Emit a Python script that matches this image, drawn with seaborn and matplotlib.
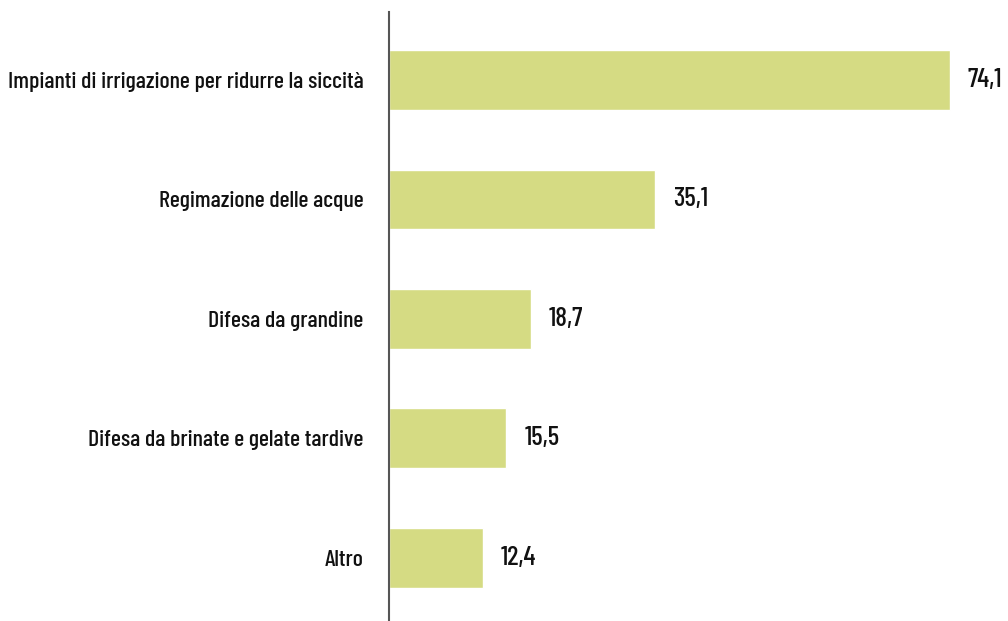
import matplotlib
matplotlib.use("Agg")
import matplotlib.pyplot as plt
import seaborn as sns
import pandas as pd

# dati
categorie = [
    "Impianti di irrigazione per ridurre la siccità",
    "Regimazione delle acque",
    "Difesa da grandine",
    "Difesa da brinate e gelate tardive",
    "Altro",
]
valori = [74.1, 35.1, 18.7, 15.5, 12.4]

df = pd.DataFrame({"categoria": categorie, "valore": valori})

sns.set_theme(style="white")
plt.rcParams["font.family"] = ["Barlow Condensed", "DejaVu Sans"]
plt.rcParams["font.weight"] = 500

fig = plt.figure(figsize=(10.08, 6.21), dpi=100)
ax = fig.add_axes([389 / 1008, 0, 1 - 389 / 1008, 1 - 12 / 621])

sns.barplot(data=df, x="valore", y="categoria", color="#D5DB83",
            width=0.5, saturation=1, ax=ax)

# etichette valori
for i, v in enumerate(valori):
    ax.text(v + 2.4, i, f"{v:.1f}".replace(".", ","), va="center", ha="left",
            fontsize=19.5, color="#111111")

ax.set_xlim(0, 81.8)
ax.set_ylim(4.53, -0.57)
ax.set_xlabel("")
ax.set_ylabel("")
ax.set_xticks([])
ax.tick_params(axis="y", length=0, pad=18.5, labelsize=17.2, labelcolor="#111111")
for s in ["top", "right", "bottom"]:
    ax.spines[s].set_visible(False)
ax.spines["left"].set_color("#555555")
ax.spines["left"].set_linewidth(1.5)

fig.savefig("out.png", dpi=100)
